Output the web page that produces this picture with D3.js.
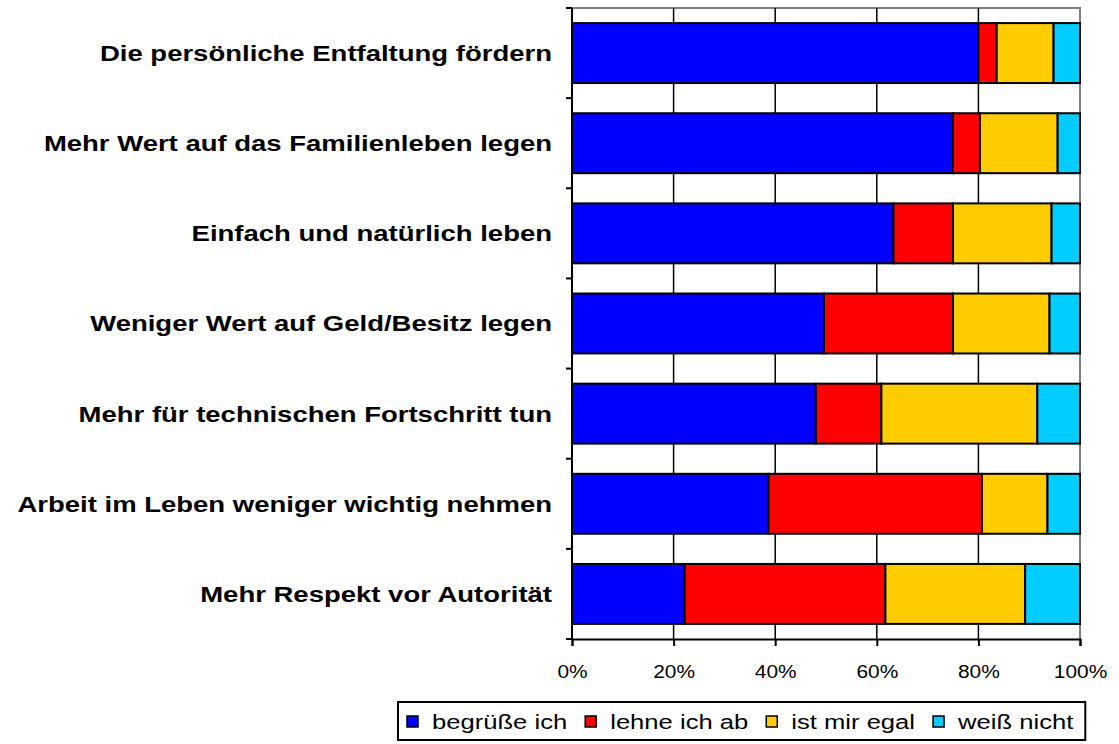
<!DOCTYPE html>
<html>
<head>
<meta charset="utf-8">
<script src="https://cdn.jsdelivr.net/npm/d3@7"></script>
<style>
  body { margin: 0; background: #fff; }
  svg { display: block; font-family: "Liberation Sans", Arial, sans-serif; }
</style>
</head>
<body>
<div id="chart"></div>
<script>
/**
 * DATA (percentages per statement)
 * */
const categories = [
  "Die persönliche Entfaltung fördern",
  "Mehr Wert auf das Familienleben legen",
  "Einfach und natürlich leben",
  "Weniger Wert auf Geld/Besitz legen",
  "Mehr für technischen Fortschritt tun",
  "Arbeit im Leben weniger wichtig nehmen",
  "Mehr Respekt vor Autorität"
];
const seriesNames = ["begrüße ich", "lehne ich ab", "ist mir egal", "weiß nicht"];
const begruesse = [80.0, 75.0, 63.3, 49.6, 48.0, 38.7, 22.2];
const lehneAb   = [3.6, 5.3, 11.7, 25.4, 12.9, 42.0, 39.5];
const egal      = [11.2, 15.3, 19.4, 19.0, 30.7, 12.9, 27.5];
const weissNicht = [5.2, 4.4, 5.6, 6.0, 8.4, 6.4, 10.8];
const xTicks = [0, 20, 40, 60, 80, 100];

/**
 * CONSTANTS
 * */
const width = 1119, height = 744;
const plot = { left: 572, right: 1080, top: 8, bottom: 639 };
const colors = ["#0000ff", "#ff0000", "#ffcc00", "#00ccff"];
// the original text is drawn a bit widened horizontally
const labelFont = { size: 22, stretch: 1.25 };
const tickFont = { size: 19, stretch: 1.1 };
const legendFont = { size: 21, stretch: 1.22 };

// table for the stack
const rows = categories.map((c, i) => ({
  cat: c,
  [seriesNames[0]]: begruesse[i],
  [seriesNames[1]]: lehneAb[i],
  [seriesNames[2]]: egal[i],
  [seriesNames[3]]: weissNicht[i]
}));
const stacked = d3.stack().keys(seriesNames)(rows);

const x = d3.scaleLinear().domain([0, 100]).range([plot.left, plot.right]);
const y = d3.scaleBand()
  .domain(categories)
  .range([plot.top, plot.bottom])
  .paddingInner(0.335)
  .paddingOuter(0.1675);

const svg = d3.select("#chart").append("svg")
  .attr("width", width)
  .attr("height", height);

// plot frame (grey top/right)
svg.append("path")
  .attr("d", `M${plot.left},${plot.top}H${plot.right}V${plot.bottom}`)
  .attr("fill", "none")
  .attr("stroke", "#808080")
  .attr("stroke-width", 2);

// vertical gridlines
svg.append("g")
  .selectAll("line")
  .data(xTicks.filter(t => t > 0 && t < 100))
  .join("line")
  .attr("x1", d => x(d)).attr("x2", d => x(d))
  .attr("y1", plot.top).attr("y2", plot.bottom)
  .attr("stroke", "#000")
  .attr("stroke-width", 1.5);

// bars
svg.append("g")
  .selectAll("g")
  .data(stacked)
  .join("g")
  .attr("fill", (d, i) => colors[i])
  .selectAll("rect")
  .data(d => d)
  .join("rect")
  .attr("x", d => x(d[0]))
  .attr("width", d => x(d[1]) - x(d[0]))
  .attr("y", d => y(d.data.cat))
  .attr("height", y.bandwidth())
  .attr("stroke", "#000")
  .attr("stroke-width", 2);

// y axis line + ticks on band boundaries
const step = y.step();
svg.append("line")
  .attr("x1", plot.left).attr("x2", plot.left)
  .attr("y1", plot.top).attr("y2", plot.bottom)
  .attr("stroke", "#000").attr("stroke-width", 2);
svg.append("g")
  .selectAll("line")
  .data(d3.range(categories.length + 1))
  .join("line")
  .attr("x1", plot.left - 6).attr("x2", plot.left)
  .attr("y1", i => plot.top + i * step)
  .attr("y2", i => plot.top + i * step)
  .attr("stroke", "#000").attr("stroke-width", 2);

// category labels
svg.append("g")
  .selectAll("text")
  .data(categories)
  .join("text")
  .attr("transform", d => `translate(552,${y(d) + y.bandwidth() / 2}) scale(${labelFont.stretch},1)`)
  .attr("text-anchor", "end")
  .attr("dy", "0.36em")
  .attr("font-size", labelFont.size)
  .attr("font-weight", "bold")
  .text(d => d);

// x axis
const xAxis = svg.append("g")
  .attr("transform", `translate(0,${plot.bottom})`)
  .call(d3.axisBottom(x).tickValues(xTicks).tickSize(7).tickFormat(d => d + "%"));
xAxis.select(".domain").attr("stroke-width", 2);
xAxis.selectAll(".tick line").attr("stroke-width", 2);
xAxis.selectAll(".tick text")
  .attr("font-size", tickFont.size)
  .attr("font-family", "Liberation Sans, Arial, sans-serif")
  .attr("fill", "#000")
  .attr("y", 0)
  .attr("dy", "0.36em")
  .attr("transform", `translate(0,32) scale(${tickFont.stretch},1)`);

// legend
const legend = svg.append("g");
const box = legend.append("rect")
  .attr("x", 398).attr("y", 702)
  .attr("height", 38)
  .attr("fill", "#fff")
  .attr("stroke", "#000").attr("stroke-width", 2);

const swatch = 11, textGap = 14, itemGap = 18;
let cursor = 407;
seriesNames.forEach((name, i) => {
  const g = legend.append("g").attr("transform", `translate(${cursor},721)`);
  g.append("rect")
    .attr("x", 0).attr("y", -5)
    .attr("width", swatch).attr("height", swatch)
    .attr("fill", colors[i])
    .attr("stroke", "#000").attr("stroke-width", 1.5);
  const t = g.append("text")
    .attr("transform", `translate(${swatch + textGap},0) scale(${legendFont.stretch},1)`)
    .attr("dy", "0.36em")
    .attr("font-size", legendFont.size)
    .text(name);
  const w = t.node().getComputedTextLength() * legendFont.stretch;
  cursor += swatch + textGap + w + itemGap;
});
box.attr("width", cursor - itemGap + 12 - 398);
</script>
</body>
</html>
